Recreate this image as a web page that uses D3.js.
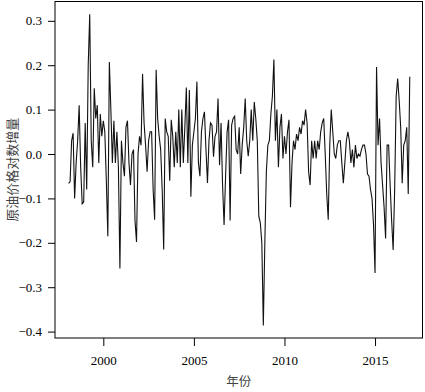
<!DOCTYPE html>
<html>
<head>
<meta charset="utf-8">
<script src="https://cdn.jsdelivr.net/npm/d3@7"></script>
<style>
  body { margin: 0; background: #fff; }
  .serif { font-family: "Liberation Serif", "Times New Roman", Times, serif; }
  .cjk { font-family: "Noto Sans CJK SC", "Noto Sans", sans-serif; }
</style>
</head>
<body>
<div id="chart"></div>
<script>
// monthly log increments of crude oil price, first value = Feb 1998
const startYear = 1998;
const startMonth = 2;
const logReturns = [
  // 1998 (Feb-Dec)
  -0.066, -0.062, 0.03, 0.047, -0.10, -0.02, 0.03, 0.11, -0.03, -0.112, -0.108,
  // 1999
  0.07, -0.08, 0.2, 0.315, 0.03, -0.03, 0.148, 0.08, 0.11, -0.02, 0.09, 0.04,
  // 2000
  0.075, 0.05, -0.06, -0.185, 0.207, 0.1, -0.02, 0.075, -0.02, 0.05, -0.03, -0.258,
  // 2001
  0.03, -0.02, -0.05, 0.06, 0.075, -0.02, -0.07, 0.0, 0.01, -0.15, -0.198, 0.0,
  // 2002
  0.04, 0.02, 0.18, 0.07, 0.02, -0.04, 0.03, 0.05, 0.05, -0.08, -0.148, 0.19,
  // 2003
  0.08, 0.04, 0.01, -0.08, -0.215, 0.08, 0.05, 0.04, -0.06, 0.077, 0.04, -0.03,
  // 2004
  0.05, -0.02, 0.1, -0.03, 0.1, -0.02, 0.06, 0.15, -0.02, 0.144, -0.096, 0.02,
  // 2005
  0.05, 0.08, 0.163, -0.02, -0.05, 0.05, 0.08, 0.095, 0.01, -0.065, 0.03, 0.07,
  // 2006
  0.065, -0.006, 0.04, 0.05, 0.125, -0.025, 0.07, -0.07, -0.16, -0.05, 0.05, 0.077,
  // 2007
  -0.15, 0.065, 0.08, 0.085, 0.01, 0.0, 0.06, -0.045, 0.02, 0.06, 0.125, 0.03,
  // 2008
  -0.005, 0.03, 0.1, 0.03, 0.117, 0.08, 0.03, -0.14, -0.155, -0.2, -0.386, -0.2,
  // 2009
  -0.04, 0.02, 0.03, 0.09, 0.13, 0.213, 0.03, 0.1, -0.03, 0.06, 0.09, -0.01,
  // 2010
  0.04, 0.0, 0.05, 0.077, -0.12, -0.02, 0.03, 0.01, 0.045, 0.03, 0.06, 0.045,
  // 2011
  0.075, 0.065, 0.1, 0.07, -0.04, -0.07, 0.03, -0.01, 0.03, -0.01, 0.03, 0.01,
  // 2012
  0.05, 0.07, 0.08, 0.0, -0.09, -0.148, 0.02, 0.1, 0.05, 0.0, -0.01, 0.02,
  // 2013
  0.03, 0.03, -0.02, -0.066, -0.02, 0.03, 0.05, 0.03, -0.02, 0.01, -0.03, 0.02,
  // 2014
  -0.01, 0.0, -0.005, 0.01, 0.02, 0.02, 0.0, -0.045, -0.05, -0.08, -0.1, -0.16,
  // 2015
  -0.268, 0.196, 0.02, 0.08, -0.02, -0.07, -0.12, -0.19, 0.02, 0.02, -0.07, -0.15,
  // 2016
  -0.216, -0.08, 0.13, 0.17, 0.12, 0.06, -0.066, 0.02, 0.03, 0.06, -0.09, 0.174
];

const xTicks = [2000, 2005, 2010, 2015];
const yTicks = [-0.4, -0.3, -0.2, -0.1, 0.0, 0.1, 0.2, 0.3];
const xTitle = '年份';
const yTitle = '原油价格对数增量';

const width = 425;
const height = 392;
const box = {left: 55, right: 422.5, top: 1.5, bottom: 338};

const points = logReturns.map((v, i) => ({
  t: startYear + (startMonth - 1 + i) / 12,
  v: v
}));

const x = d3.scaleLinear()
  .domain([1997.333, 2017.62])
  .range([box.left, box.right]);

const y = d3.scaleLinear()
  .domain([-0.4144, 0.3435])
  .range([box.bottom, box.top]);

const svg = d3.select('#chart')
  .append('svg')
  .attr('width', width)
  .attr('height', height);

// series
svg.append('path')
  .datum(points)
  .attr('fill', 'none')
  .attr('stroke', '#111')
  .attr('stroke-width', 1.1)
  .attr('stroke-linejoin', 'miter')
  .attr('d', d3.line().x(d => x(d.t)).y(d => y(d.v)));

// frame
svg.append('rect')
  .attr('x', box.left)
  .attr('y', box.top)
  .attr('width', box.right - box.left)
  .attr('height', box.bottom - box.top)
  .attr('fill', 'none')
  .attr('stroke', '#000')
  .attr('stroke-width', 1);

const xAxis = svg.append('g')
  .attr('transform', `translate(0,${box.bottom})`)
  .call(d3.axisBottom(x).tickValues(xTicks).tickFormat(d3.format('d')).tickSize(8).tickPadding(10));

const yAxis = svg.append('g')
  .attr('transform', `translate(${box.left},0)`)
  .call(d3.axisLeft(y).tickValues(yTicks).tickFormat(d3.format('.1f')).tickSize(7).tickPadding(6));

[xAxis, yAxis].forEach(g => {
  g.attr('font-family', null).attr('font-size', null);
  g.select('.domain').remove();
  g.selectAll('.tick line').attr('stroke', '#000');
  g.selectAll('.tick text')
    .attr('class', 'serif')
    .attr('fill', '#000')
    .style('font-size', '13px');
});

svg.append('text')
  .attr('class', 'cjk')
  .attr('x', (box.left + box.right) / 2)
  .attr('y', 386)
  .attr('text-anchor', 'middle')
  .attr('fill', '#444')
  .style('font-size', '12.5px')
  .text(xTitle);

svg.append('text')
  .attr('class', 'cjk')
  .attr('transform', `translate(17,${(box.top + box.bottom) / 2}) rotate(-90)`)
  .attr('text-anchor', 'middle')
  .attr('fill', '#444')
  .style('font-size', '13px')
  .text(yTitle);
</script>
</body>
</html>
